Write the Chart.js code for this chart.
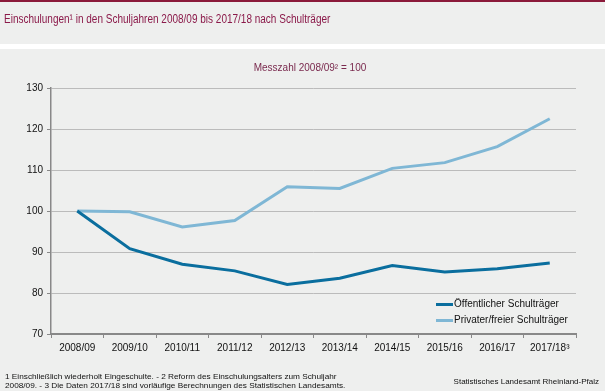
<!DOCTYPE html>
<html>
<head>
<meta charset="utf-8">
<script src="https://cdn.jsdelivr.net/npm/chart.js@4"></script>
<style>
  html,body{margin:0;padding:0;background:#eeefee;}
  #wrap{position:relative;width:605px;height:391px;overflow:hidden;background:#eeefee;font-family:"Liberation Sans",Arial,sans-serif;}
  #topbar{position:absolute;left:0;top:0;width:605px;height:2px;background:#8b1a3a;}
  #sep{position:absolute;left:0;top:44px;width:605px;height:5px;background:#ffffff;}
  .t{position:absolute;white-space:nowrap;}
  #title{left:4px;top:12px;font-size:12.5px;color:#8b1a4a;transform:scaleX(0.80);transform-origin:0 0;}
  #sub{left:0;width:620px;top:62px;font-size:10px;color:#7a2a4e;text-align:center;}
  #c{position:absolute;left:0;top:0;}
  .leg{position:absolute;font-size:10px;color:#111;}
  .sw{position:absolute;height:3px;width:17px;}
  .fn{font-size:8px;color:#111;left:5px;transform:scaleX(1.03);transform-origin:0 0;}
</style>
</head>
<body>
<div id="wrap">
  <canvas id="c" width="605" height="391"></canvas>
  <div id="topbar"></div>
  <div id="sep"></div>
  <div class="t" id="title">Einschulungen¹ in den Schuljahren 2008/09 bis 2017/18 nach Schulträger</div>
  <div class="t" id="sub">Messzahl 2008/09² = 100</div>
  <div class="sw" style="left:436px;top:303px;background:#0a6e9e;"></div>
  <div class="t leg" style="left:454px;top:298px;">Öffentlicher Schulträger</div>
  <div class="sw" style="left:436px;top:319px;background:#7fb7d5;"></div>
  <div class="t leg" style="left:454px;top:314px;">Privater/freier Schulträger</div>
  <div class="t fn" style="top:372px;">1 Einschließlich wiederholt Eingeschulte. - 2 Reform des Einschulungsalters zum Schuljahr</div>
  <div class="t fn" style="top:381px;">2008/09. - 3 Die Daten 2017/18 sind vorläufige Berechnungen des Statistischen Landesamts.</div>
  <div class="t" style="font-size:8px;color:#111;right:6px;top:377px;">Statistisches Landesamt Rheinland-Pfalz</div>
</div>
<script>
const categories = ["2008/09","2009/10","2010/11","2011/12","2012/13","2013/14","2014/15","2015/16","2016/17","2017/18³"];
const oeffentlich = [100, 90.8, 87.0, 85.4, 82.1, 83.6, 86.7, 85.1, 85.9, 87.3];
const privat = [100, 99.8, 96.1, 97.7, 105.9, 105.5, 110.4, 111.8, 115.7, 122.5];
const yTicks = [70, 80, 90, 100, 110, 120, 130];

new Chart(document.getElementById('c'), {
  type: 'line',
  data: {
    labels: categories,
    datasets: [
      {label: 'Öffentlicher Schulträger', data: oeffentlich, borderColor: '#0a6e9e', borderWidth: 3, pointRadius: 0, tension: 0, fill: false},
      {label: 'Privater/freier Schulträger', data: privat, borderColor: '#7fb7d5', borderWidth: 3, pointRadius: 0, tension: 0, fill: false}
    ]
  },
  options: {
    responsive: false,
    animation: false,
    layout: {padding: {left: 0, right: 29, top: 88, bottom: 0}},
    plugins: {legend: {display: false}, tooltip: {enabled: false}},
    scales: {
      x: {
        offset: true,
        grid: {offset: true, drawOnChartArea: false, drawTicks: true, tickLength: 4, color: '#888', lineWidth: 1},
        border: {color: '#888', width: 2},
        ticks: {color: '#111', font: {family: 'Liberation Sans', size: 10}, padding: 4, maxRotation: 0, autoSkip: false},
        afterFit: s => { s.height = 57; }
      },
      y: {
        min: 70, max: 130,
        afterBuildTicks: s => { s.ticks = yTicks.map(v => ({value: v})); },
        grid: {color: '#bbbbbb', lineWidth: 1, drawTicks: true, tickLength: 4, tickColor: '#888'},
        border: {color: '#888', width: 1.5},
        ticks: {color: '#111', font: {family: 'Liberation Sans', size: 10}, padding: 4},
        afterFit: s => { s.width = 51; }
      }
    }
  }
});
</script>
</body>
</html>
